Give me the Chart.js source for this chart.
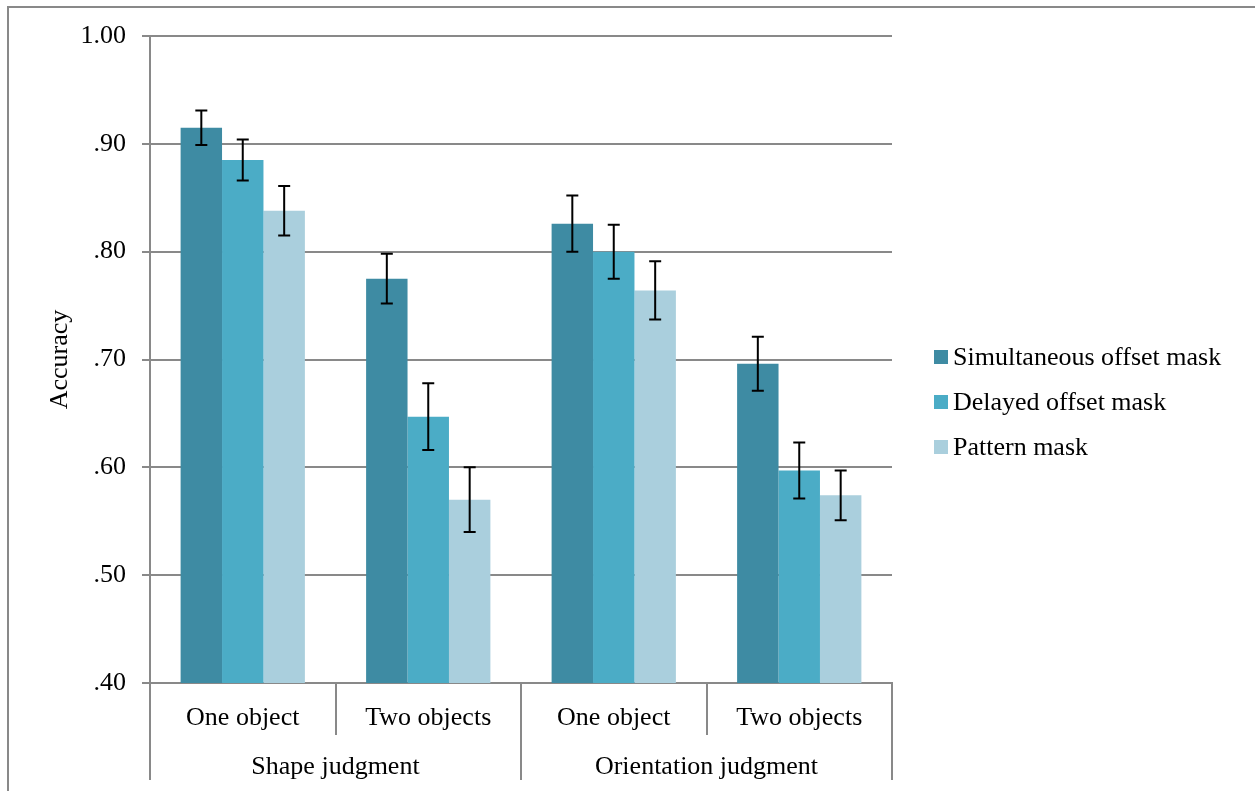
<!DOCTYPE html>
<html>
<head>
<meta charset="utf-8">
<script src="https://cdn.jsdelivr.net/npm/chart.js@4.4.1/dist/chart.umd.min.js"></script>
<style>
  html, body { margin: 0; padding: 0; background: #fff; }
  #wrap { width: 1255px; height: 791px; position: relative; }
</style>
</head>
<body>
<div id="wrap"><canvas id="accChart"></canvas></div>
<script>
// categories (inner and outer level of the x axis)
const conditions = ['One object', 'Two objects', 'One object', 'Two objects'];
const judgments = ['Shape judgment', 'Orientation judgment'];

// series: mean accuracy
const simultaneous = [0.915, 0.775, 0.826, 0.696];
const delayed = [0.885, 0.647, 0.800, 0.597];
const pattern = [0.838, 0.570, 0.764, 0.574];

// error bar half-widths
const simultaneousErr = [0.016, 0.023, 0.026, 0.025];
const delayedErr = [0.019, 0.031, 0.025, 0.026];
const patternErr = [0.023, 0.030, 0.027, 0.023];

const seriesNames = ['Simultaneous offset mask', 'Delayed offset mask', 'Pattern mask'];
const seriesColors = ['#3e8ba3', '#4bacc6', '#aacfdd'];

const yTicks = [0.4, 0.5, 0.6, 0.7, 0.8, 0.9, 1.0];

const FONT = '"Liberation Serif", "Times New Roman", serif';
const LINE = '#898989';

// frame around the chart (top and left edges visible)
const framePlugin = {
  id: 'frame',
  beforeDraw(chart) {
    const ctx = chart.ctx;
    ctx.save();
    ctx.strokeStyle = LINE;
    ctx.lineWidth = 2;
    ctx.beginPath();
    ctx.moveTo(8, chart.height);
    ctx.lineTo(8, 7);
    ctx.lineTo(chart.width, 7);
    ctx.stroke();
    ctx.restore();
  }
};

// error bars on top of each bar
const errorBarPlugin = {
  id: 'errorBars',
  afterDatasetsDraw(chart) {
    const ctx = chart.ctx;
    const y = chart.scales.y;
    ctx.save();
    ctx.strokeStyle = '#000';
    ctx.lineWidth = 2;
    chart.data.datasets.forEach((ds, i) => {
      const meta = chart.getDatasetMeta(i);
      meta.data.forEach((bar, j) => {
        const hi = y.getPixelForValue(ds.data[j] + ds.err[j]);
        const lo = y.getPixelForValue(ds.data[j] - ds.err[j]);
        ctx.beginPath();
        ctx.moveTo(bar.x, hi); ctx.lineTo(bar.x, lo);
        ctx.moveTo(bar.x - 6, hi); ctx.lineTo(bar.x + 6, hi);
        ctx.moveTo(bar.x - 6, lo); ctx.lineTo(bar.x + 6, lo);
        ctx.stroke();
      });
    });
    ctx.restore();
  }
};

// separators of the two-level category axis, plus the legend
const axisAndLegendPlugin = {
  id: 'axisAndLegend',
  afterDraw(chart) {
    const ctx = chart.ctx;
    const x = chart.scales.x;
    const x2 = chart.scales.x2;
    const perGroup = conditions.length / judgments.length;
    ctx.save();
    ctx.strokeStyle = LINE;
    ctx.lineWidth = 2;
    for (let k = 0; k <= conditions.length; k++) {
      const px = Math.round(x.getPixelForValue(k - 0.5));
      const bottom = k % perGroup === 0 ? x2.bottom : x.bottom;
      ctx.beginPath();
      ctx.moveTo(px, x.top);
      ctx.lineTo(px, bottom);
      ctx.stroke();
    }

    // legend
    const lx = chart.chartArea.right + 42;
    const ly = 357;
    ctx.font = '26px ' + FONT;
    ctx.textBaseline = 'middle';
    ctx.textAlign = 'left';
    chart.data.datasets.forEach((ds, i) => {
      const cy = ly + i * 45;
      ctx.fillStyle = ds.backgroundColor;
      ctx.fillRect(lx, cy - 7, 14, 14);
      ctx.fillStyle = '#000';
      ctx.fillText(ds.label, lx + 19, cy + 1);
    });
    ctx.restore();
  }
};

const makeSet = (i, data, err) => ({
  label: seriesNames[i],
  data: data,
  err: err,
  backgroundColor: seriesColors[i],
  borderWidth: 0,
  barPercentage: 1.0,
  categoryPercentage: 0.67
});

new Chart(document.getElementById('accChart'), {
  type: 'bar',
  data: {
    labels: conditions,
    datasets: [
      makeSet(0, simultaneous, simultaneousErr),
      makeSet(1, delayed, delayedErr),
      makeSet(2, pattern, patternErr)
    ]
  },
  options: {
    responsive: true,
    maintainAspectRatio: false,
    animation: false,
    layout: { padding: { left: 40, top: 36, right: 363, bottom: 11 } },
    plugins: {
      legend: { display: false },
      tooltip: { enabled: false }
    },
    scales: {
      x: {
        type: 'category',
        labels: conditions,
        grid: { display: false },
        border: { display: true, color: LINE, width: 2 },
        ticks: { color: '#000', font: { family: FONT, size: 26 }, padding: 12, maxRotation: 0, autoSkip: false },
        afterFit(scale) { scale.height = 52; }
      },
      x2: {
        type: 'category',
        labels: judgments,
        position: 'bottom',
        weight: 1,
        grid: { display: false },
        border: { display: false },
        ticks: { color: '#000', font: { family: FONT, size: 26 }, padding: 9, maxRotation: 0, autoSkip: false },
        afterFit(scale) { scale.height = 45; }
      },
      y: {
        min: yTicks[0],
        max: yTicks[yTicks.length - 1],
        afterBuildTicks(scale) { scale.ticks = yTicks.map(v => ({ value: v })); },
        grid: { color: LINE, lineWidth: 2, tickLength: 8 },
        border: { display: true, color: LINE, width: 2 },
        ticks: {
          color: '#000',
          font: { family: FONT, size: 26 },
          padding: 16,
          callback: v => { const s = Number(v).toFixed(2); return s.startsWith('0') ? s.slice(1) : s; }
        },
        title: {
          display: true,
          text: 'Accuracy',
          color: '#000',
          font: { family: FONT, size: 26 },
          padding: { top: 5, bottom: 0 }
        },
        afterFit(scale) { scale.width = 110; }
      }
    }
  },
  plugins: [framePlugin, errorBarPlugin, axisAndLegendPlugin]
});
</script>
</body>
</html>
